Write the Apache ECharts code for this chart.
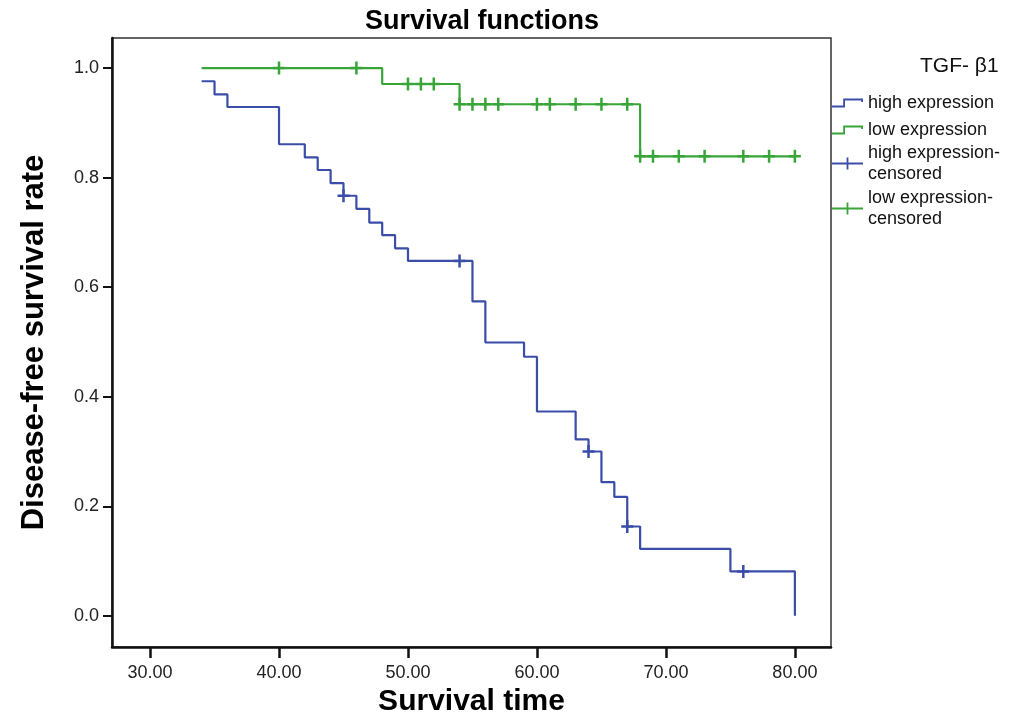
<!DOCTYPE html>
<html>
<head>
<meta charset="utf-8">
<script src="https://cdn.jsdelivr.net/npm/echarts@6/dist/echarts.min.js"></script>
<style>
html,body{margin:0;padding:0;background:#fff;}
#chart{width:1033px;height:725px;}
</style>
</head>
<body>
<div id="chart"></div>
<script>
// ---- data ----
var highExpression = [
  [34, 0.976], [35, 0.952], [36, 0.929], [40, 0.861], [42, 0.837], [43, 0.814],
  [44, 0.790], [45, 0.767], [46, 0.743], [47, 0.718], [48, 0.695], [49, 0.671],
  [50, 0.648], [55, 0.574], [56, 0.499], [59, 0.473], [60, 0.373], [63, 0.322],
  [64, 0.300], [65, 0.244], [66, 0.217], [67, 0.163], [68, 0.122], [75, 0.081],
  [80, 0.0]
];
var lowExpression = [
  [34, 1.0], [48, 0.971], [54, 0.934], [68, 0.839], [80, 0.839]
];
var highCensored = [
  [45, 0.767], [54, 0.648], [64, 0.300], [67, 0.163], [76, 0.081]
];
var lowCensored = [
  [40, 1.0], [46, 1.0],
  [50, 0.971], [51, 0.971], [52, 0.971],
  [54, 0.934], [55, 0.934], [56, 0.934], [57, 0.934], [60, 0.934], [61, 0.934],
  [63, 0.934], [65, 0.934], [67, 0.934],
  [68, 0.839], [69, 0.839], [71, 0.839], [73, 0.839], [76, 0.839], [78, 0.839], [80, 0.839]
];
var seriesNames = ['high expression', 'low expression', 'high expression-censored', 'low expression-censored'];
var xTickValues = [30, 40, 50, 60, 70, 80];
var yTickValues = [0, 0.2, 0.4, 0.6, 0.8, 1.0];
var legendTitle = 'TGF- \u03b21';

// ---- styles ----
var FONT = '"Liberation Sans", Arial, sans-serif';
var BLUE = '#3A4DA8';
var GREEN = '#38A538';
var PLUS = 'path://M4.75,0H7.25V13H4.75Z M0,5.25H12V7.75H0Z';
var STEP_ICON = 'path://M0,8H13V9.8H0Z M11.2,1H13V9.8H11.2Z M11.2,1H31V2.8H11.2Z M29.2,1H31V4.5H29.2Z';
var CENS_ICON = 'path://M0,5.1H31V6.9H0Z M14.6,0H16.4V12H14.6Z';

function legendAt(name, top, icon, ih) {
  return {
    data: [name], orient: 'vertical', left: 832, top: top, padding: 0,
    itemWidth: 31, itemHeight: ih, icon: icon, selectedMode: false,
    itemStyle: { borderWidth: 0, opacity: 1 },
    formatter: function (n) { return n.replace('-censored', '-\ncensored'); },
    textStyle: { fontFamily: FONT, fontSize: 18, color: '#111', lineHeight: 21 }
  };
}

var chart = echarts.init(document.getElementById('chart'));
chart.setOption({
  animation: false,
  backgroundColor: '#fff',
  title: [
    { text: 'Survival functions', left: 477, top: 3, textAlign: 'center',
      textStyle: { fontFamily: FONT, fontSize: 27, fontWeight: 'bold', color: '#000' } },
    { text: legendTitle, left: 915, top: 51,
      textStyle: { fontFamily: FONT, fontSize: 21, fontWeight: 'normal', color: '#111' } }
  ],
  legend: [
    legendAt(seriesNames[0], 92.5, STEP_ICON, 10),
    legendAt(seriesNames[1], 119.5, STEP_ICON, 10),
    legendAt(seriesNames[2], 142.5, CENS_ICON, 12),
    legendAt(seriesNames[3], 187.5, CENS_ICON, 12)
  ],
  grid: { left: 112, top: 38, width: 719, height: 609, show: true,
          borderColor: '#333', borderWidth: 1.5, backgroundColor: 'transparent' },
  xAxis: {
    type: 'value', min: 27.05, max: 82.8,
    name: 'Survival time', nameLocation: 'middle', nameGap: 40,
    nameTextStyle: { fontFamily: FONT, fontSize: 30, fontWeight: 'bold', color: '#000' },
    axisLine: { show: true, onZero: false, lineStyle: { color: '#111', width: 2.5 } },
    axisTick: { show: true, length: 11, lineStyle: { color: '#111', width: 2.5 }, customValues: xTickValues },
    axisLabel: { customValues: xTickValues, margin: 17, fontFamily: FONT, fontSize: 18, color: '#222',
                 formatter: function (v) { return v.toFixed(2); } },
    splitLine: { show: false }
  },
  yAxis: {
    type: 'value', min: -0.057, max: 1.055,
    name: 'Disease-free survival rate', nameLocation: 'middle', nameGap: 62,
    nameTextStyle: { fontFamily: FONT, fontSize: 31, fontWeight: 'bold', color: '#000' },
    axisLine: { show: true, onZero: false, lineStyle: { color: '#111', width: 2.5 } },
    axisTick: { show: true, length: 9, lineStyle: { color: '#111', width: 2 }, customValues: yTickValues },
    axisLabel: { customValues: yTickValues, margin: 13, fontFamily: FONT, fontSize: 18, color: '#222',
                 formatter: function (v) { return v.toFixed(1); } },
    splitLine: { show: false }
  },
  series: [
    { name: seriesNames[0], type: 'line', step: 'end', data: highExpression, showSymbol: false,
      symbol: 'none', itemStyle: { color: BLUE }, lineStyle: { color: BLUE, width: 2.2 }, z: 3 },
    { name: seriesNames[1], type: 'line', step: 'end', data: lowExpression, showSymbol: false,
      symbol: 'none', itemStyle: { color: GREEN }, lineStyle: { color: GREEN, width: 2.2 }, z: 3 },
    { name: seriesNames[2], type: 'scatter', data: highCensored, symbol: PLUS, symbolSize: [12, 13],
      itemStyle: { color: BLUE, borderWidth: 0, opacity: 1 }, z: 4 },
    { name: seriesNames[3], type: 'scatter', data: lowCensored, symbol: PLUS, symbolSize: [12, 13],
      itemStyle: { color: GREEN, borderWidth: 0, opacity: 1 }, z: 4 }
  ]
});
</script>
</body>
</html>
